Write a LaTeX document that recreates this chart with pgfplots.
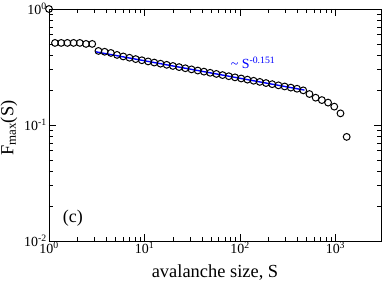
\documentclass[border=0pt]{standalone}
\usepackage{fontspec}
\setmainfont{Liberation Serif}
\usepackage{pgfplots}
\pgfplotsset{compat=1.18}
\begin{document}
\begin{tikzpicture}
\useasboundingbox (-49bp,-41bp) rectangle (333bp,241bp);
\begin{axis}[
  xmode=log, ymode=log,
  scale only axis, width=332bp, height=232bp,
  xmin=1, xmax=3000, ymin=0.01, ymax=1,
  tick pos=both, tick align=inside,
  major tick length=7bp, minor tick length=4bp,
  axis line style={line width=0.8bp},
  every tick/.style={black, line width=0.7bp},
  xticklabel={10\textsuperscript{\pgfmathparse{int(round(\tick/2.302585093))}\pgfmathresult}},
  yticklabel={10\textsuperscript{\pgfmathparse{int(round(\tick/2.302585093))}\pgfmathresult}},
  tick label style={font=\fontsize{14}{16}\selectfont},
  xticklabel style={inner sep=1bp},
  yticklabel style={inner sep=2bp},
  xlabel={avalanche size, S},
  ylabel={F\textsubscript{max}(S)},
  label style={font=\fontsize{18.5}{20}\selectfont},
  xlabel style={at={(axis description cs:0.5,-0.158)}, anchor=base},
  ylabel style={at={(axis description cs:-0.1075,0.486)}, anchor=base},
  clip=false,
]
\addplot[only marks, mark=o, mark size=3.4bp, mark options={line width=1bp, black}] coordinates {
(1,1)
(1.155,0.51) (1.342,0.51) (1.558,0.51) (1.810,0.51) (2.102,0.51) (2.442,0.50) (2.836,0.50)
(3.294,0.435) (3.826,0.428) (4.444,0.418) (5.161,0.402) (5.995,0.390) (6.963,0.380)
(8.087,0.370) (9.391,0.3615) (10.91,0.3533) (12.67,0.3454) (14.72,0.3377) (17.09,0.3302)
(19.85,0.3228) (23.06,0.3156) (26.78,0.3085) (31.10,0.3016) (36.13,0.2949) (41.96,0.2884)
(48.73,0.2819) (56.60,0.2756) (65.73,0.2694) (76.35,0.2634) (88.67,0.2575) (102.97,0.2518)
(119.6,0.2461) (138.9,0.2406) (161.3,0.2353) (187.4,0.2300) (217.6,0.2249) (252.7,0.2198)
(293.6,0.2149) (340.9,0.2101) (396.0,0.2054) (459.9,0.1990) (534.1,0.185) (620.4,0.172)
(720.5,0.164) (836.8,0.156) (971.9,0.144) (1128.8,0.126) (1311,0.079)
};
\addplot[blue, line width=1.4bp] coordinates {(3.1,0.4272) (473,0.2000)};
\node[blue, font=\fontsize{14}{16}\selectfont] at (axis cs:137,0.346) {\textasciitilde{} S\textsuperscript{-0.151}};
\node[font=\fontsize{18}{20}\selectfont] at (axis cs:1.78,0.0158) {(c)};
\end{axis}
\end{tikzpicture}
\end{document}
